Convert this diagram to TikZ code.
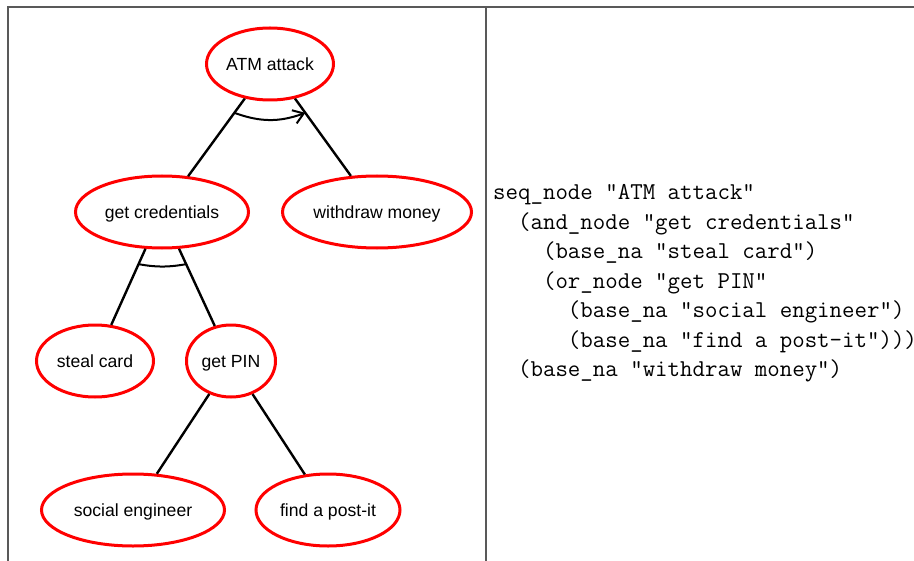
\documentclass[tikz,border=0pt]{standalone}
\usepackage{fontspec}
\newfontfamily\treefont{Liberation Sans}
\usetikzlibrary{positioning}
\usetikzlibrary{arrows.meta}
\usetikzlibrary{shapes,calc}
\tikzset{main node/.style={ellipse,draw=red,line width=1.5pt,minimum height=36pt,inner sep=0pt,text height=6.8pt,text depth=0pt,font=\treefont\fontsize{8.8}{10}\selectfont},}

\begin{document}
\begin{tikzpicture}[x=1pt,y=1pt,line width=1.2pt]
    \useasboundingbox (0,0) rectangle (457,-280.5);
    % frame
    \draw[black!65,line width=0.7pt] (457,-3.5) -- (4,-3.5) -- (4,-282);
    \draw[black!65,line width=0.7pt] (243,-3.5) -- (243,-282);

    \node[main node,minimum width=63.5pt] (1) at (135,-32) {ATM attack};
    \node[main node,minimum width=86.5pt] (2) at (81,-106) {get credentials};
    \node[main node,minimum width=94.5pt] (3) at (188.5,-106) {withdraw money};
    \node[main node,minimum width=58.5pt] (4) at (47.5,-180.5) {steal card};
    \node[main node,minimum width=44.5pt] (5) at (115.5,-180.5) {get PIN};
    \node[main node,minimum width=91.5pt] (6) at (66.5,-255) {social engineer};
    \node[main node,minimum width=72pt] (7) at (164,-255) {find a post-it};

    \path[draw]
    (1) edge (2)
    (1) edge (3)
    (2) edge (4)
    (2) edge (5)
    (5) edge (6)
    (5) edge (7);

    % seq and and arcs
    \draw[line width=1pt,-{Straight Barb[length=5pt,width=7pt]}] ($(1)!0.33!(2)$) to[bend right=20] ($(1)!0.33!(3)$);
    \draw[line width=1pt] ($(2)!0.35!(4)$) to[bend right=10] ($(2)!0.35!(5)$);

    \node[anchor=north west,inner sep=0pt,align=left,font=\fontsize{12.1}{14.75}\selectfont\ttfamily] (code) at (246,-91.6) {%
      seq\_node "ATM attack"\\
      \phantom{xx}(and\_node "get credentials"\\
      \phantom{xxxx}(base\_na "steal card")\\
      \phantom{xxxx}(or\_node "get PIN"\\
      \phantom{xxxxxx}(base\_na "social engineer")\\
      \phantom{xxxxxx}(base\_na "find a post-it")))\\
      \phantom{xx}(base\_na "withdraw money")};
\end{tikzpicture}
\end{document}
